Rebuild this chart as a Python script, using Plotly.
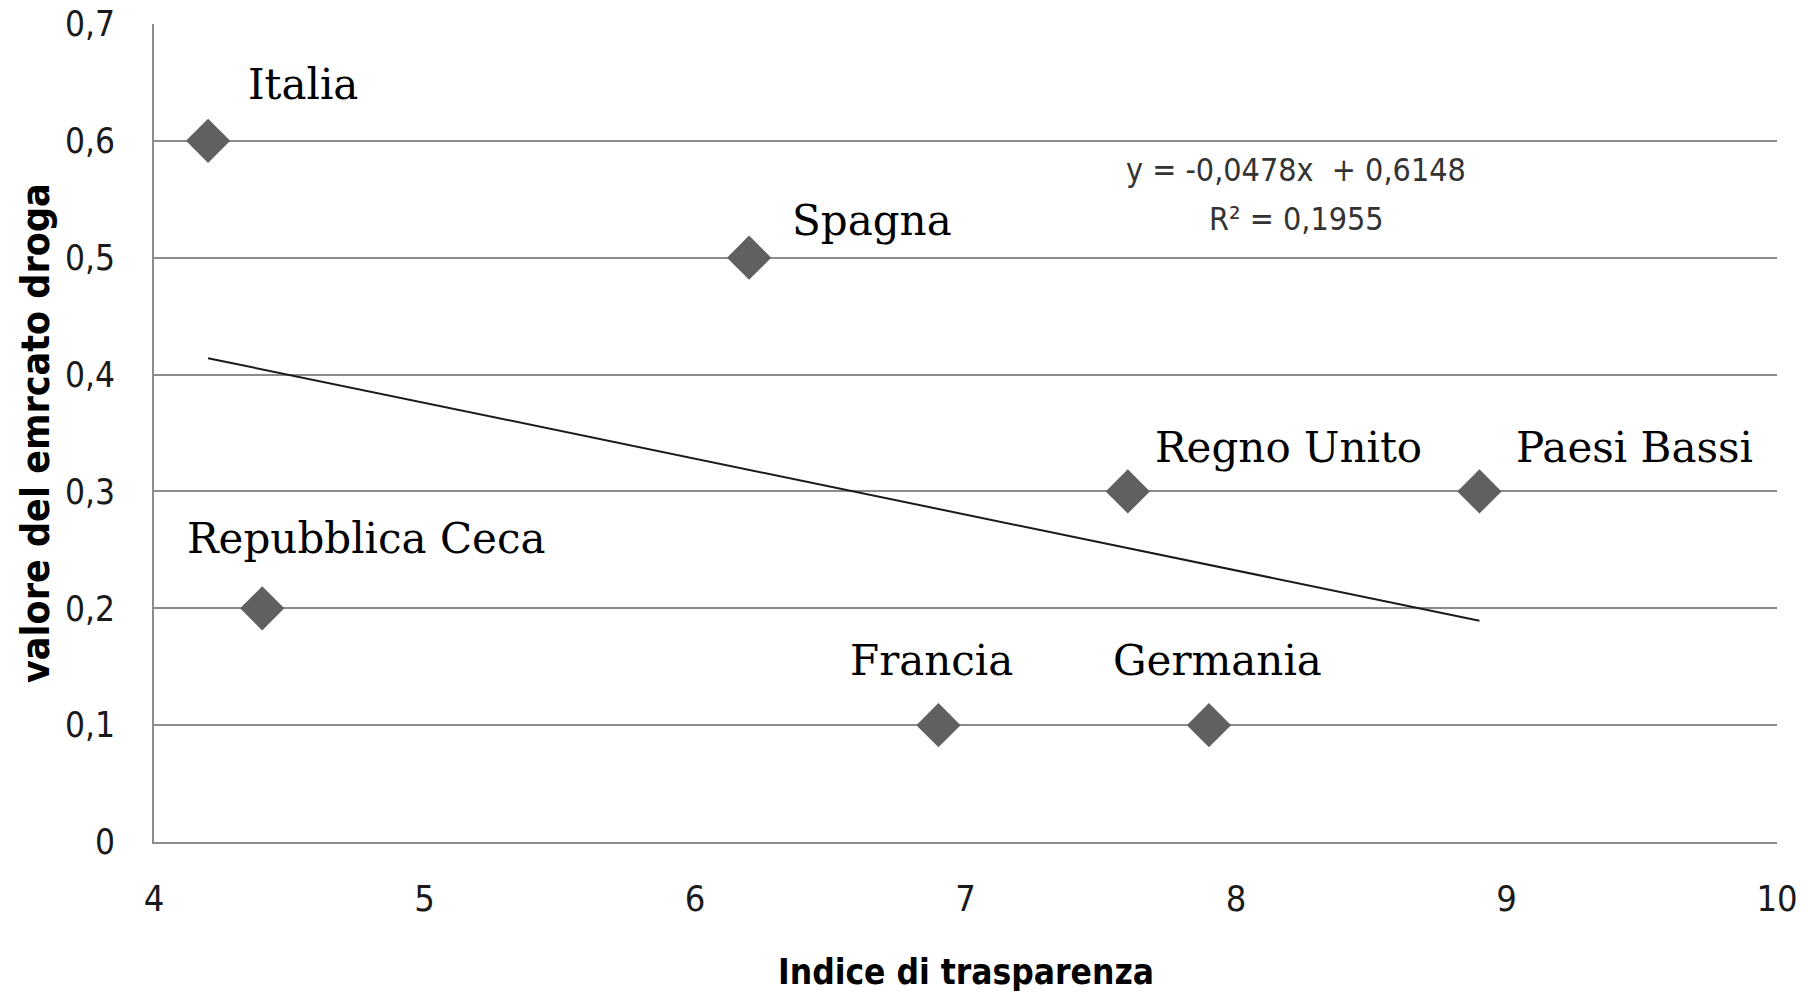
import numpy as np
import plotly.graph_objects as go

# ---- data ----
countries = ["Italia", "Spagna", "Regno Unito", "Paesi Bassi",
             "Repubblica Ceca", "Francia", "Germania"]
transparency = [4.2, 6.2, 7.6, 8.9, 4.4, 6.9, 7.9]
drug_market = [0.6, 0.5, 0.3, 0.3, 0.2, 0.1, 0.1]

x_title = "Indice di trasparenza"
y_title = "valore del emrcato droga"

# label offsets in pixels (style only)
label_dx = [38, 41, 25, 35, -77, -90, -98]
label_dy = [56, 37, 44, 44, 70, 65, 65]

# linear trend (least squares) computed from the data
slope, intercept = np.polyfit(transparency, drug_market, 1)
ss_res = sum((yv - (slope * xv + intercept)) ** 2 for xv, yv in zip(transparency, drug_market))
ymean = np.mean(drug_market)
ss_tot = sum((yv - ymean) ** 2 for yv in drug_market)
r2 = 1 - ss_res / ss_tot
tx = [min(transparency), max(transparency)]
ty = [slope * v + intercept for v in tx]

def fmt(v, d):
    return f"{v:.{d}f}".replace(".", ",")

eq_line1 = f"y = {fmt(slope, 4)}x  + {fmt(intercept, 4)}"
eq_line2 = f"R² = {fmt(r2, 4)}"

tick_font = "Liberation Sans Narrow, DejaVu Sans Condensed, Roboto, sans-serif"
title_font = "Liberation Sans Narrow, DejaVu Sans Condensed, Roboto, sans-serif"

L, R, T, B = 154, 1777, 24, 842

fig = go.Figure()
fig.add_trace(go.Scatter(
    x=tx, y=ty, mode="lines",
    line=dict(color="#1a1a1a", width=2),
    hoverinfo="skip", showlegend=False,
))
fig.add_trace(go.Scatter(
    x=transparency, y=drug_market, mode="markers",
    marker=dict(symbol="diamond", size=34, color="#606060"),
    text=countries, showlegend=False,
))

for c, xv, yv, dx, dy in zip(countries, transparency, drug_market, label_dx, label_dy):
    fig.add_annotation(
        x=xv, y=yv, xref="x", yref="y", text=c, showarrow=False,
        xanchor="left", yanchor="middle", xshift=dx, yshift=dy,
        font=dict(family="DejaVu Serif, serif", size=42, color="#000000"),
    )

for txt, py in ((eq_line1, 170), (eq_line2, 219)):
    fig.add_annotation(
        xref="paper", yref="paper",
        x=(1296 - L) / (R - L), y=1 - (py - T) / (B - T),
        text=txt, showarrow=False,
        xanchor="center", yanchor="middle", align="center",
        font=dict(family=tick_font, size=32, color="#333333"),
    )

# axis titles
fig.add_annotation(
    xref="paper", yref="paper", x=0.5, y=-(972 - B) / (B - T),
    text=f"<b>{x_title}</b>", showarrow=False, xanchor="center", yanchor="middle",
    font=dict(family=title_font, size=35, color="#000000"),
)
fig.add_annotation(
    xref="paper", yref="paper", x=-(L - 35) / (R - L), y=0.5,
    text=f"<b>{y_title}</b>", showarrow=False, textangle=-90,
    xanchor="center", yanchor="middle",
    font=dict(family=title_font, size=39, color="#000000"),
)

fig.update_layout(
    width=1808, height=995,
    margin=dict(l=L, r=1808 - R, t=T, b=995 - B, autoexpand=False),
    paper_bgcolor="white", plot_bgcolor="white",
    separators=",.",
    showlegend=False,
)
fig.update_xaxes(
    range=[4, 10], dtick=1, tick0=4, showgrid=False,
    showline=True, linecolor="#8c8c8c", linewidth=2,
    ticks="", ticklabelstandoff=24, automargin=False,
    tickfont=dict(family=tick_font, size=36, color="#1a1a1a"),
    zeroline=False,
)
fig.update_yaxes(
    range=[0, 0.7], dtick=0.1, tick0=0, showgrid=True,
    gridcolor="#8c8c8c", gridwidth=2,
    showline=True, linecolor="#8c8c8c", linewidth=2,
    ticks="", ticklabelstandoff=30, automargin=False,
    tickfont=dict(family=tick_font, size=35, color="#1a1a1a"),
    zeroline=False,
)

fig.write_html(
    "out.html",
    config={"displayModeBar": False},
    post_script="document.body.style.margin='0px';document.body.style.overflow='hidden';",
)
